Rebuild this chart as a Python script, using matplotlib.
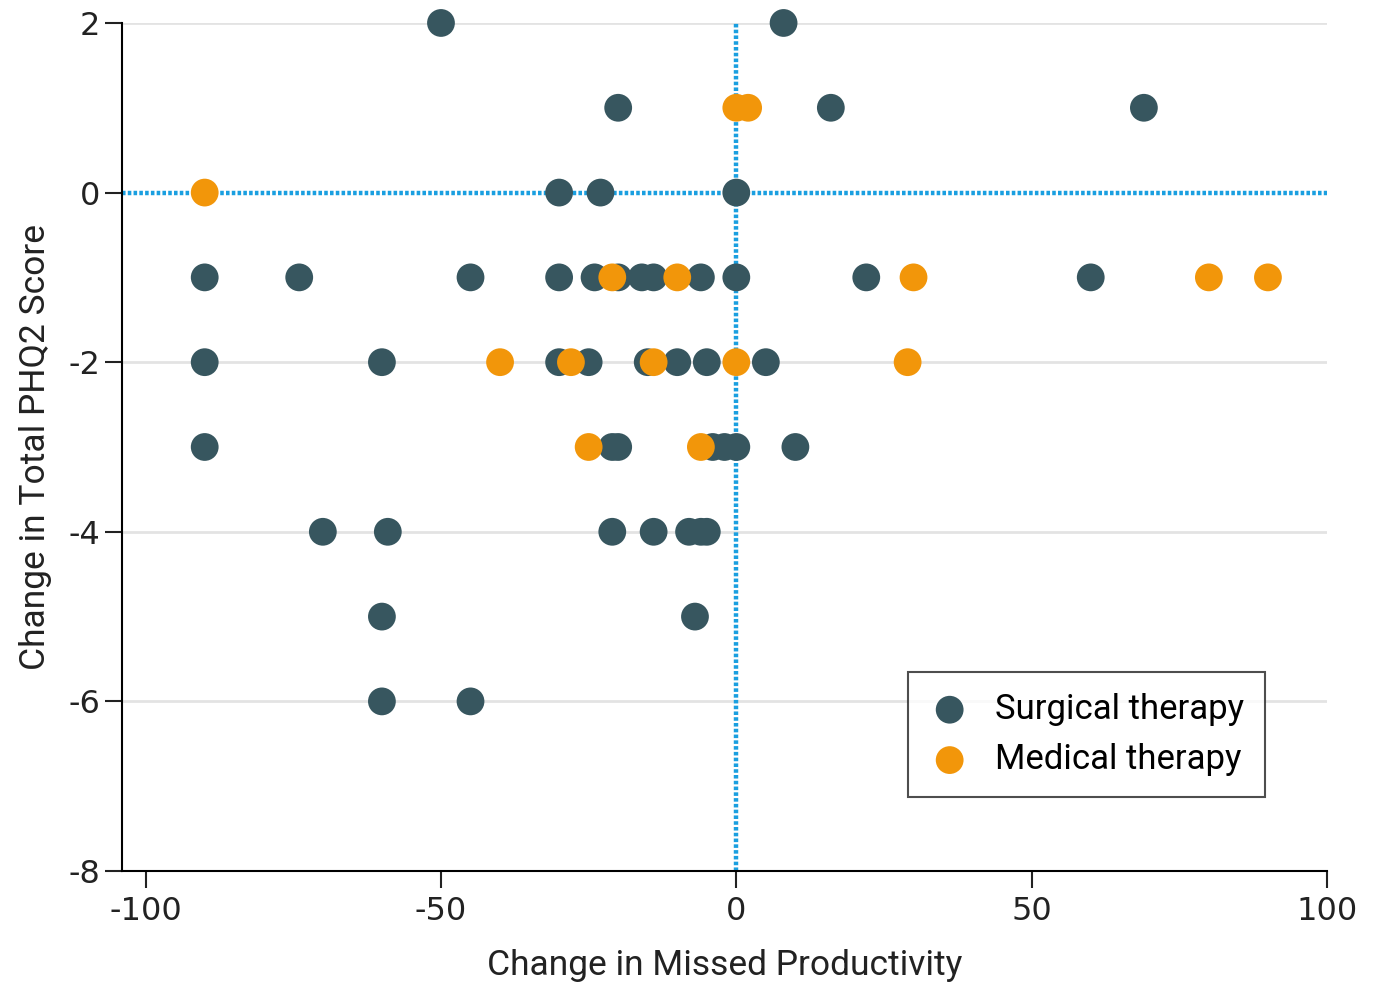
import matplotlib
matplotlib.use("Agg")
import matplotlib.pyplot as plt

# surgical therapy points (change in missed productivity, change in PHQ2)
surg_x = [-50, 8,
          -20, 16, 69,
          -30, -23, 0,
          -90, -74, -45, -30, -24, -20, -16, -14, -6, 0, 22, 60,
          -90, -60, -30, -25, -15, -10, -5, 5,
          -90, -21, -20, -4, -2, 0, 10,
          -70, -59, -21, -14, -8, -6, -5,
          -60, -7,
          -60, -45]
surg_y = [2, 2,
          1, 1, 1,
          0, 0, 0,
          -1, -1, -1, -1, -1, -1, -1, -1, -1, -1, -1, -1,
          -2, -2, -2, -2, -2, -2, -2, -2,
          -3, -3, -3, -3, -3, -3, -3,
          -4, -4, -4, -4, -4, -4, -4,
          -5, -5,
          -6, -6]

# medical therapy points
med_x = [0, 2, -90, -21, -10, 30, 80, 90, -40, -28, -14, 0, 29, -25, -6]
med_y = [1, 1, 0, -1, -1, -1, -1, -1, -2, -2, -2, -2, -2, -3, -3]

surg_color = "#37565F"
med_color = "#F2960A"
ref_color = "#1A9FE0"

fig = plt.figure(figsize=(13.74, 9.9), dpi=100)
ax = fig.add_axes([0.0888, 0.1202, 0.877, 0.8566])

ax.set_xlim(-104, 100)
ax.set_ylim(-8, 2)

for yv in [2, -2, -4, -6]:
    ax.axhline(yv, color="#E3E3E3", lw=2, zorder=0)
ax.axhline(0, color=ref_color, lw=3.2, ls=(0, (0.8, 0.5)), zorder=1)
ax.axvline(0, color=ref_color, lw=3.2, ls=(0, (0.8, 0.5)), zorder=1)

ax.scatter(surg_x, surg_y, s=400, color=surg_color, edgecolors="none",
           zorder=3, label="Surgical therapy", clip_on=False)
ax.scatter(med_x, med_y, s=400, color=med_color, edgecolors="none",
           zorder=4, label="Medical therapy", clip_on=False)

for s in ["top", "right"]:
    ax.spines[s].set_visible(False)
ax.spines["left"].set_linewidth(1.5)
ax.spines["bottom"].set_linewidth(1.5)

ax.set_xticks([-100, -50, 0, 50, 100])
ax.set_xticklabels(["-100", "-50", "0", "50", "100"])
ax.set_yticks([2, 0, -2, -4, -6, -8])
ax.set_yticklabels(["2", "0", "-2", "-4", "-6", "-8"])
ax.tick_params(axis="both", labelsize=23, length=12, width=1.5, direction="out",
               colors="#222222")
ax.tick_params(axis="x", pad=6)

lab_font = dict(family=["Roboto", "DejaVu Sans"], fontsize=25.5, color="#222222")
ax.set_xlabel("Change in Missed Productivity", labelpad=16, **lab_font)
ax.set_ylabel("Change in Total PHQ2 Score", labelpad=12, **lab_font)

leg = ax.legend(loc="upper left", bbox_to_anchor=(908 / 1374, 1 - 672 / 990),
                bbox_transform=fig.transFigure, borderaxespad=0,
                prop={"family": ["Roboto", "DejaVu Sans"], "size": 25},
                frameon=True, fancybox=False, edgecolor="#222222",
                handletextpad=0.7, borderpad=0.6, labelspacing=0.5,
                handlelength=1.2, markerscale=1.0)
leg.get_frame().set_linewidth(1.5)

fig.savefig("out.png", dpi=100)
